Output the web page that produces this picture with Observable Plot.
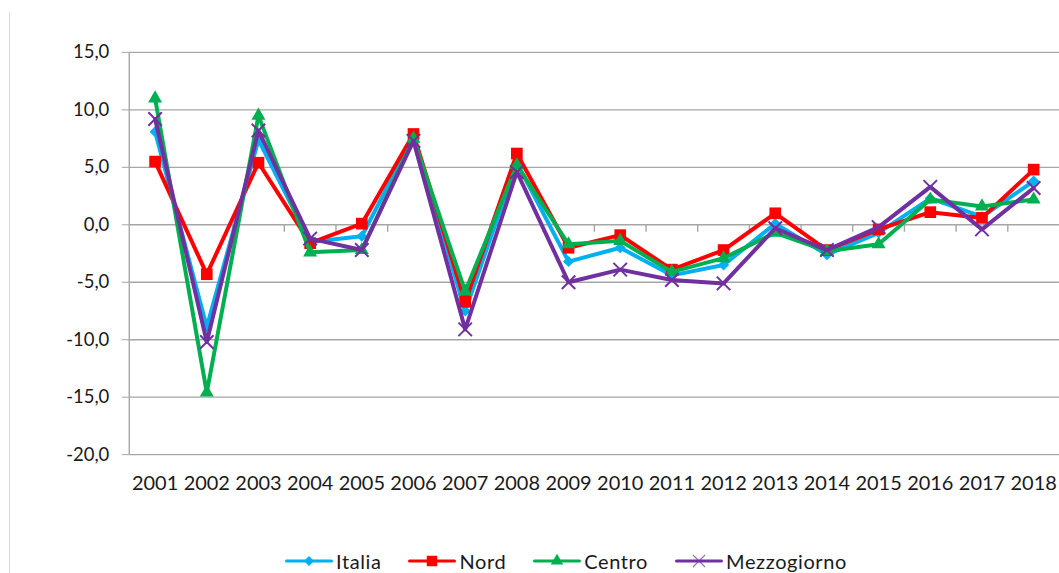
<!DOCTYPE html>
<html>
<head>
<meta charset="utf-8">
<script src="https://cdn.jsdelivr.net/npm/d3@7"></script>
<script src="https://cdn.jsdelivr.net/npm/@observablehq/plot@0.6"></script>
<style>
html, body { margin: 0; padding: 0; overflow: hidden; background: #fff; width: 1059px; height: 573px; }
#wrap { position: relative; width: 1059px; height: 573px; }
#frame { position: absolute; left: 9px; top: 12px; width: 1px; height: 561px; background: #d9d9d9; }
#chart { position: absolute; left: 0; top: 0; }
#legend { position: absolute; left: 285px; top: 549px; display: flex; align-items: center; font-family: Lato, "Open Sans", sans-serif; font-size: 20px; letter-spacing: 0.6px; color: #1a1a1a; line-height: 24px; white-space: nowrap; }
#legend .item { display: flex; align-items: center; margin-right: 27px; }
#legend .item span { margin-left: 3px; }
#legend svg { display: block; }
</style>
</head>
<body>
<div id="wrap">
  <div id="frame"></div>
  <div id="chart"></div>
  <div id="legend"></div>
</div>
<script>
const years = [2001,2002,2003,2004,2005,2006,2007,2008,2009,2010,2011,2012,2013,2014,2015,2016,2017,2018];
const italia      = [8.1, -8.9, 7.4, -1.5, -1.0, 7.7, -7.5, 5.4, -3.2, -2.0, -4.4, -3.5,  0.1, -2.6, -0.7, 2.3,  0.7, 3.8];
const nord        = [5.5, -4.3, 5.4, -1.6,  0.1, 7.9, -6.7, 6.2, -2.0, -0.9, -3.9, -2.2,  1.0, -2.2, -0.4, 1.1,  0.6, 4.8];
const centro      = [11.0, -14.6, 9.5, -2.4, -2.2, 7.5, -5.8, 5.2, -1.7, -1.4, -4.1, -2.9, -0.7, -2.3, -1.7, 2.2, 1.6, 2.2];
const mezzogiorno = [9.2, -10.2, 8.2, -1.2, -2.2, 7.3, -9.1, 4.6, -5.0, -3.9, -4.8, -5.1, -0.3, -2.2, -0.2, 3.3, -0.4, 3.2];
const seriesNames = ["Italia", "Nord", "Centro", "Mezzogiorno"];
const seriesColors = ["#00B0F0", "#FF0000", "#00B050", "#7030A0"];
const yTicks = [-20, -15, -10, -5, 0, 5, 10, 15];

const seriesValues = [italia, nord, centro, mezzogiorno];
const markers = [
  {symbol: "diamond2", r: 5.0, fill: true},
  {symbol: "square", r: 6.6, fill: true},
  {symbol: "triangle", r: 5.2, fill: true},
  {symbol: "times", r: 6.2, fill: false}
];
const rows = seriesNames.map((name, i) => years.map((y, j) => ({year: y, value: seriesValues[i][j], series: name})));
const boundaries = years.slice(0, -1).map(y => y + 0.5);
const fmt = d => d.toFixed(1).replace(".", ",");
const font = "Lato, 'Open Sans', sans-serif";

const marks = [
  Plot.ruleY(yTicks, {stroke: "#a6a6a6", strokeWidth: 1.4}),
  Plot.ruleX([years[0] - 0.5], {y1: yTicks[0], y2: yTicks[yTicks.length - 1], stroke: "#a6a6a6", strokeWidth: 1.4}),
  Plot.ruleX(boundaries, {y1: 0, y2: -0.65, stroke: "#a6a6a6", strokeWidth: 1.4}),
  Plot.axisY({ticks: yTicks, tickSize: 7, tickPadding: 13, tickFormat: fmt, stroke: "#a6a6a6", fontSize: 18.5, fill: "#1a1a1a", label: null}),
  Plot.axisX({ticks: years, tickSize: 0, tickPadding: 21, tickFormat: d => String(d), fontSize: 20, fill: "#1a1a1a", label: null, style: {letterSpacing: "0.4px"}})
];
rows.forEach((data, i) => {
  const c = seriesColors[i];
  const m = markers[i];
  marks.push(Plot.line(data, {x: "year", y: "value", stroke: c, strokeWidth: 4, strokeLinejoin: "round"}));
  marks.push(Plot.dot(data, m.fill
    ? {x: "year", y: "value", symbol: () => m.symbol, r: m.r, fill: c, stroke: "none"}
    : {x: "year", y: "value", symbol: () => m.symbol, r: m.r, stroke: c, strokeWidth: 2, fill: "none"}));
});

const chart = Plot.plot({
  width: 1061,
  height: 510,
  marginLeft: 129,
  marginRight: 0,
  marginTop: 52,
  marginBottom: 55,
  style: {fontFamily: font, fontSize: "19px", color: "#1a1a1a", background: "transparent"},
  x: {type: "linear", domain: [years[0] - 0.5, years[years.length - 1] + 0.5], axis: null},
  y: {domain: [yTicks[0], yTicks[yTicks.length - 1]], axis: null},
  symbol: {type: "identity"},
  marks
});
document.getElementById("chart").appendChild(chart);

// legend
const legend = document.getElementById("legend");
seriesNames.forEach((name, i) => {
  const c = seriesColors[i];
  const item = document.createElement("div");
  item.className = "item";
  const svg = d3.create("svg").attr("width", 48).attr("height", 20);
  svg.append("line").attr("x1", 1.5).attr("x2", 46.5).attr("y1", 10).attr("y2", 10).attr("stroke", c).attr("stroke-width", 3).attr("stroke-linecap", "round");
  const m = markers[i];
  const symType = {"diamond2": d3.symbolDiamond2, "square": d3.symbolSquare, "triangle": d3.symbolTriangle, "times": d3.symbolTimes}[m.symbol];
  const p = svg.append("path").attr("transform", "translate(24,10)").attr("d", d3.symbol(symType, Math.PI * m.r * m.r * 0.8)());
  if (m.fill) p.attr("fill", c); else p.attr("fill", "none").attr("stroke", c).attr("stroke-width", 1.2).attr("opacity", 0.7);
  item.appendChild(svg.node());
  const t = document.createElement("span");
  t.textContent = name;
  item.appendChild(t);
  legend.appendChild(item);
});
</script>
</body>
</html>
